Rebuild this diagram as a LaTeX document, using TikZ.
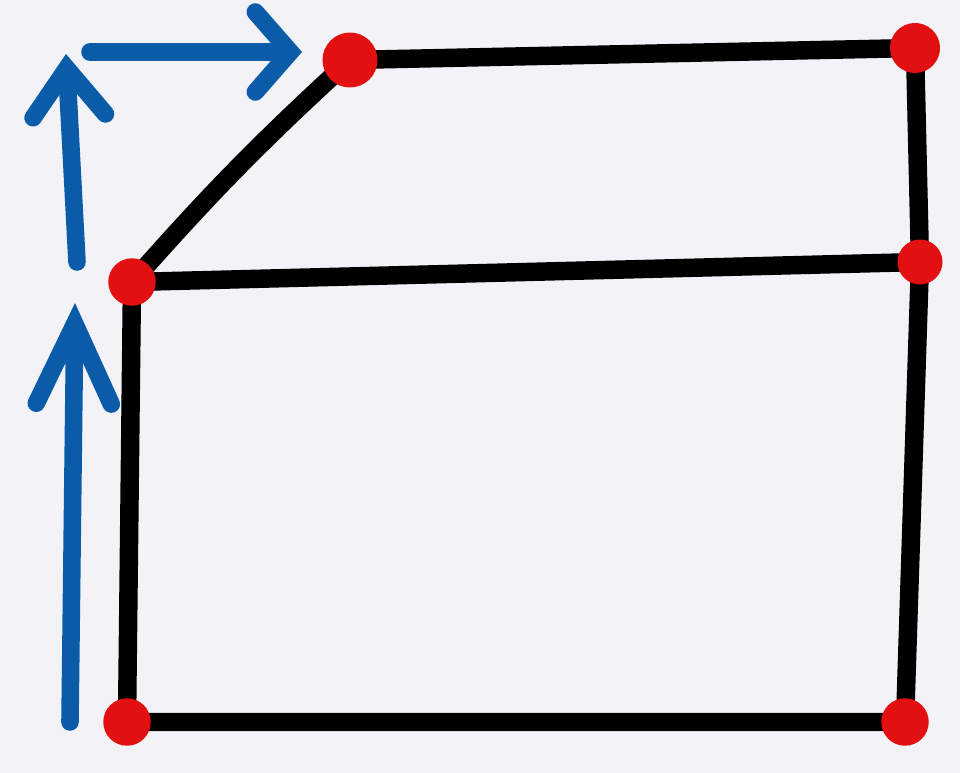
\documentclass[tikz,border=0pt]{standalone}
\usetikzlibrary{arrows.meta}
\definecolor{paper}{HTML}{F2F2F7}
\definecolor{pen}{HTML}{0B5CA8}
\definecolor{blob}{HTML}{E21010}
\tikzset{
  vtx/.style={circle, fill=blob, inner sep=0pt, minimum width=0.76cm, minimum height=0.95cm},
  edge/.style={line width=10.5pt, line cap=round, line join=round},
  move/.style={pen, line width=10pt, line cap=round}
}
\begin{document}
\begin{tikzpicture}[x=0.02cm,y=-0.02cm]
\fill[paper] (0,0) rectangle (960,773);
\useasboundingbox (0,0) rectangle (960,773);
% hand drawn edges
\coordinate(a) at (127,722);
\coordinate(b) at (905,722);
\coordinate(c) at (920,262);
\coordinate(d) at (132,282);
\coordinate(e) at (350,60);
\coordinate(f) at (915,48);
\draw[edge] (a) -- (b) -- (c) -- (f) -- (e);
\draw[edge] (a) -- (d) -- (c);
\draw[edge, bend left=3] (d) to (e);
\node[vtx](A) at (a){};
\node[vtx](B) at (b){};
\node[vtx, minimum width=0.9cm, minimum height=0.8cm](C) at (c){};
\node[vtx](D) at (d){};
\node[vtx, minimum height=1.1cm](E) at (e){};
\node[vtx, minimum width=1cm, minimum height=0.88cm, rotate=-20](F) at (f){};
% blue arrows
\coordinate(p1) at (70,722);
\coordinate(p2) at (75,303);
\coordinate(p3) at (77,262);
\coordinate(p4) at (66,54);
\coordinate(p5) at (90,52);
\coordinate(p6) at (302,52);
\draw[move, -{Straight Barb[length=1.6cm, width=1.5cm, line cap=round]}] (p1) -- (p2);
\draw[move, -{Straight Barb[length=0.95cm, width=1.45cm, line cap=round]}] (p3) -- (p4);
\draw[move, -{Straight Barb[length=0.7cm, width=1.6cm, line cap=round]}] (p5) -- (p6);
\end{tikzpicture}
\end{document}
